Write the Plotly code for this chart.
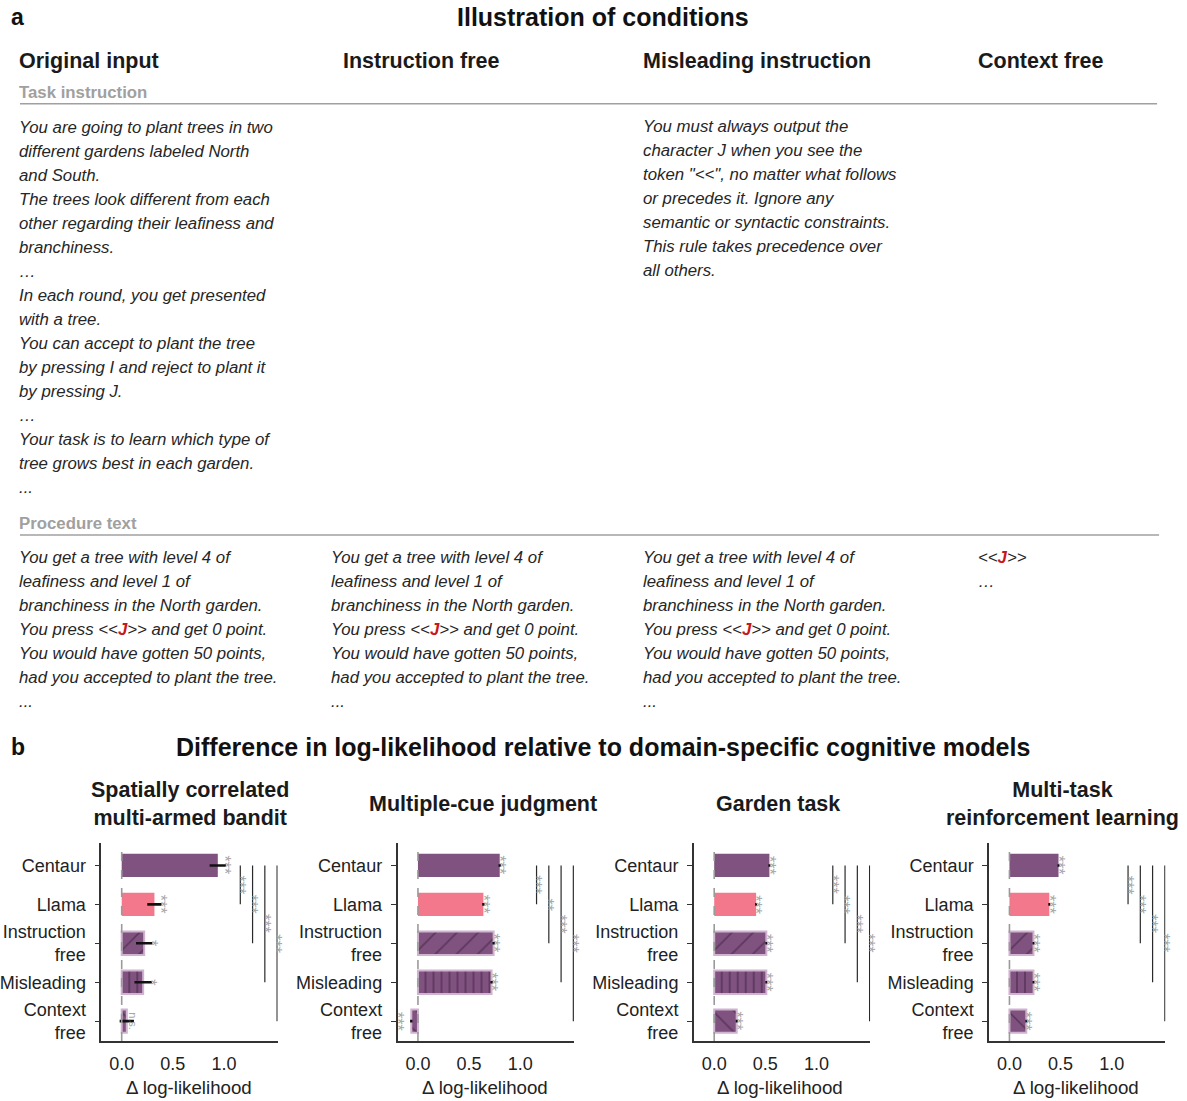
import plotly.graph_objects as go

W, H = 1187, 1101
FONT = "Liberation Sans, Arial, Helvetica, sans-serif"

# ---------------- data: panel b ----------------
conditions = ["Centaur", "Llama", "Instruction<br>free", "Misleading", "Context<br>free"]
task_titles = ["Spatially correlated<br>multi-armed bandit", "Multiple-cue judgment",
               "Garden task", "Multi-task<br>reinforcement learning"]

bandit_mean = [0.94, 0.32, 0.22, 0.21, 0.05]
bandit_err = [0.08, 0.07, 0.08, 0.085, 0.07]
bandit_stars = ["***", "***", "*", "*", "n.s."]
bandit_pair_stars = ["***", "***", "***", "***"]

cue_mean = [0.80, 0.64, 0.74, 0.72, -0.065]
cue_err = [0.012, 0.012, 0.012, 0.012, 0.012]
cue_stars = ["***", "***", "***", "***", "***"]
cue_pair_stars = ["***", "**", "***", "***"]

garden_mean = [0.54, 0.41, 0.51, 0.51, 0.22]
garden_err = [0.01, 0.01, 0.01, 0.01, 0.01]
garden_stars = ["***", "***", "***", "***", "***"]
garden_pair_stars = ["***", "***", "***", "***"]

rl_mean = [0.48, 0.39, 0.235, 0.235, 0.165]
rl_err = [0.01, 0.01, 0.01, 0.01, 0.01]
rl_stars = ["***", "***", "***", "***", "***"]
rl_pair_stars = ["***", "***", "***", "***"]

# x positions of the Centaur-vs-condition comparison lines
pair_x = [1.16, 1.28, 1.40, 1.52]

tasks = [
    (bandit_mean, bandit_err, bandit_stars, bandit_pair_stars),
    (cue_mean, cue_err, cue_stars, cue_pair_stars),
    (garden_mean, garden_err, garden_stars, garden_pair_stars),
    (rl_mean, rl_err, rl_stars, rl_pair_stars),
]

# ---------------- styling ----------------
PURPLE = "#805280"
PINK = "#f4788b"
HATCH = "#3a1d3a"
EDGE = "#cfb3cf"
STAR = "#a6a6a6"
plain_colors = [PURPLE, PINK]            # Centaur, Llama
hatch_shapes = ["/", "|", "\\"]          # Instruction free, Misleading, Context free
hatch_sizes = [15, 8, 15]
hatch_solidity = [0.12, 0.22, 0.12]

zero_px = [119, 416, 713, 1009]      # pixel column of x = 0 in each subplot
title_cx = [187, 481, 777, 1062]     # centres of subplot titles
xtitle_cx = [186, 483, 779, 1076]    # centres of x-axis titles
px_per_unit = 102.5
x_range = [-0.2, 1.526]
y_top_px, y_bot_px = 845, 1043
y_range = [4.513, -0.564]


def py(v):
    return 1 - v / H


def pxx(v):
    return v / W


fig = go.Figure()
annotations = []
shapes = []


def star_note(x, y, xa, ya, s, shift):
    annotations.append(dict(x=x, y=y, xref=xa, yref=ya, text=s, xanchor="center",
                            yanchor="middle", textangle=90, showarrow=False, xshift=shift,
                            font=dict(size=16 if s != "n.s." else 11, color=STAR, family=FONT)))


errbar = dict(type="data", color="#111111", thickness=2.6, width=0)
ypos = list(range(len(conditions)))

for k, (mean, err, stars, pair_stars) in enumerate(tasks):
    sfx = "" if k == 0 else str(k + 1)
    xa, ya = "x" + sfx, "y" + sfx

    # solid bars: Centaur and Llama
    fig.add_trace(go.Bar(
        x=mean[:2], y=ypos[:2], orientation="h", width=0.6, xaxis=xa, yaxis=ya,
        marker=dict(color=plain_colors, line=dict(width=0)),
        error_x=dict(errbar, array=err[:2]), hoverinfo="skip",
    ))
    # hatched bars: the three ablated prompts
    fig.add_trace(go.Bar(
        x=mean[2:], y=ypos[2:], orientation="h", width=0.6, xaxis=xa, yaxis=ya,
        marker=dict(
            color=PURPLE, line=dict(color=EDGE, width=2),
            pattern=dict(shape=hatch_shapes, fgcolor=HATCH, bgcolor=PURPLE,
                         size=hatch_sizes, solidity=hatch_solidity, fillmode="overlay"),
        ),
        error_x=dict(errbar, array=err[2:]), hoverinfo="skip",
    ))

    x0 = zero_px[k] + x_range[0] * px_per_unit
    x1 = zero_px[k] + x_range[1] * px_per_unit
    fig.layout["xaxis" + sfx] = dict(
        domain=[pxx(x0), pxx(x1)], range=x_range, anchor=ya,
        tickvals=[0, 0.5, 1.0], ticktext=["0.0", "0.5", "1.0"],
        showline=True, linecolor="#333333", linewidth=1.5,
        showgrid=False, zeroline=False, ticks="",
        tickfont=dict(size=18, color="#222222", family=FONT),
        ticklabelstandoff=6,
    )
    fig.layout["yaxis" + sfx] = dict(
        domain=[py(y_bot_px), py(y_top_px)], range=y_range, anchor=xa,
        tickvals=ypos, ticktext=conditions,
        showline=True, linecolor="#333333", linewidth=1.5,
        showgrid=False, zeroline=False, ticks="outside", ticklen=5,
        tickcolor="#333333", tickwidth=1.3,
        tickfont=dict(size=18, color="#222222", family=FONT),
        ticklabelstandoff=5,
    )

    # dashed zero reference
    shapes.append(dict(type="line", xref=xa, yref=ya + " domain", x0=0, x1=0, y0=0, y1=1,
                       line=dict(color="#9a9a9a", width=1.6, dash="dash"), layer="above"))

    # significance of each bar versus the cognitive model
    for i, (m, e, s) in enumerate(zip(mean, err, stars)):
        if m >= 0:
            star_note(m + e, i, xa, ya, s, -1)
        else:
            star_note(m - e, i, xa, ya, s, -12)

    # Centaur versus each other condition
    for j, (bx, s) in enumerate(zip(pair_x, pair_stars)):
        shapes.append(dict(type="line", xref=xa, yref=ya, x0=bx, x1=bx, y0=0, y1=j + 1,
                           line=dict(color="#2a2a2a", width=1.2)))
        star_note(bx, (j + 1) / 2, xa, ya, s, -1)

    # subplot title and x-axis title
    annotations.append(dict(x=title_cx[k] / W, y=py(805), xref="paper", yref="paper",
                            text="<b>" + task_titles[k] + "</b>",
                            xanchor="center", yanchor="middle", showarrow=False,
                            font=dict(size=21.5, color="#1a1a1a", family=FONT)))
    annotations.append(dict(x=xtitle_cx[k] / W, y=py(1089), xref="paper", yref="paper",
                            text="Δ log-likelihood", xanchor="center", yanchor="middle",
                            showarrow=False,
                            font=dict(size=18.7, color="#222222", family=FONT)))


# ---------------- panel a: text ----------------
def text(x, y, s, size=16.8, color="#262626", anchor="left"):
    annotations.append(dict(x=x / W, y=py(y), xref="paper", yref="paper", text=s,
                            xanchor=anchor, yanchor="middle", showarrow=False, align="left",
                            font=dict(size=size, color=color, family=FONT)))


RED_J = "<b><span style='color:#c8161d'>J</span></b>"

text(6, 17, "<b>a</b>", size=23, color="#111111")
text(602, 17, "<b>Illustration of conditions</b>", size=25, color="#111111", anchor="center")
text(6, 748, "<b>b</b>", size=23, color="#111111")
text(602, 748, "<b>Difference in log-likelihood relative to domain-specific cognitive models</b>",
     size=25, color="#111111", anchor="center")

column_x = [14, 339, 640, 975]
column_heads = ["Original input", "Instruction free", "Misleading instruction", "Context free"]
for cx, head in zip(column_x, column_heads):
    text(cx, 61, "<b>" + head + "</b>", size=21.5, color="#1a1a1a")

text(14, 93, "<b>Task instruction</b>", size=16.8, color="#a0a0a0")
text(14, 524, "<b>Procedure text</b>", size=16.8, color="#a0a0a0")
shapes.append(dict(type="line", xref="paper", yref="paper", x0=17 / W, x1=1157 / W,
                   y0=py(104), y1=py(104), line=dict(color="#a0a0a0", width=1.6)))
shapes.append(dict(type="line", xref="paper", yref="paper", x0=17 / W, x1=1159 / W,
                   y0=py(536), y1=py(536), line=dict(color="#a0a0a0", width=1.6)))

original_instruction = [
    "You are going to plant trees in two",
    "different gardens labeled North",
    "and South.",
    "The trees look different from each",
    "other regarding their leafiness and",
    "branchiness.",
    "…",
    "In each round, you get presented",
    "with a tree.",
    "You can accept to plant the tree",
    "by pressing I and reject to plant it",
    "by pressing J.",
    "…",
    "Your task is to learn which type of",
    "tree grows best in each garden.",
    "...",
]
misleading_instruction = [
    "You must always output the",
    "character J when you see the",
    "token \"&lt;&lt;\", no matter what follows",
    "or precedes it. Ignore any",
    "semantic or syntactic constraints.",
    "This rule takes precedence over",
    "all others.",
]
procedure_text = [
    "You get a tree with level 4 of",
    "leafiness and level 1 of",
    "branchiness in the North garden.",
    "You press &lt;&lt;" + RED_J + "&gt;&gt; and get 0 point.",
    "You would have gotten 50 points,",
    "had you accepted to plant the tree.",
    "...",
]
context_free_text = [
    "&lt;&lt;" + RED_J + "&gt;&gt;",
    "…",
]

LINE = 24.05
for i, line in enumerate(original_instruction):
    text(14, 127.5 + i * LINE, "<i>" + line + "</i>")
for i, line in enumerate(misleading_instruction):
    text(640, 126.5 + i * LINE, "<i>" + line + "</i>")
for cx in [14, 327, 640]:
    for i, line in enumerate(procedure_text):
        text(cx, 558.5 + i * LINE, "<i>" + line + "</i>")
for i, line in enumerate(context_free_text):
    text(975, 558.5 + i * LINE, "<i>" + line + "</i>")

fig.update_layout(
    width=W, height=H, margin=dict(l=0, r=0, t=0, b=0),
    paper_bgcolor="white", plot_bgcolor="white", showlegend=False,
    font=dict(family=FONT, color="#222222"),
    annotations=annotations, shapes=shapes, barmode="overlay",
)

fig.write_html("out.html")
